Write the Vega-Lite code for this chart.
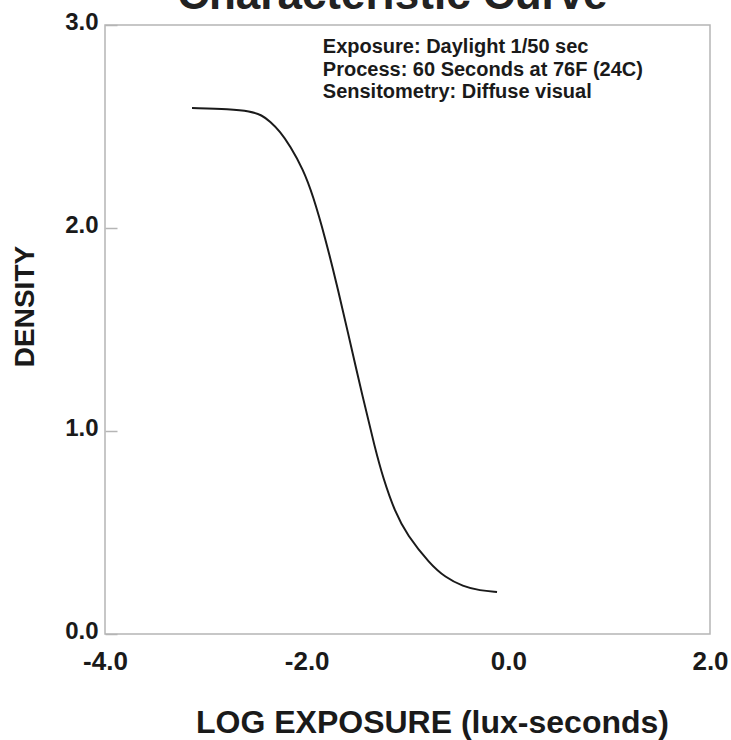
{
  "$schema": "https://vega.github.io/schema/vega-lite/v6.json",
  "autosize": {"type": "none"},
  "padding": {"left": 105, "top": 25, "right": 21, "bottom": 106},
  "width": 605,
  "height": 609,
  "background": "white",
  "config": {
    "view": {"stroke": "#b5b5b5", "strokeWidth": 1.5},
    "font": "Liberation Sans"
  },
  "datasets": {
    "curve": [
      {"logE": -3.137, "density": 2.591},
      {"logE": -2.760, "density": 2.586},
      {"logE": -2.562, "density": 2.576},
      {"logE": -2.443, "density": 2.556},
      {"logE": -2.364, "density": 2.525},
      {"logE": -2.264, "density": 2.476},
      {"logE": -2.165, "density": 2.405},
      {"logE": -2.036, "density": 2.290},
      {"logE": -1.937, "density": 2.160},
      {"logE": -1.818, "density": 1.955},
      {"logE": -1.700, "density": 1.720},
      {"logE": -1.600, "density": 1.505},
      {"logE": -1.441, "density": 1.160},
      {"logE": -1.322, "density": 0.915},
      {"logE": -1.243, "density": 0.770},
      {"logE": -1.124, "density": 0.600},
      {"logE": -1.005, "density": 0.488},
      {"logE": -0.777, "density": 0.345},
      {"logE": -0.628, "density": 0.280},
      {"logE": -0.450, "density": 0.234},
      {"logE": -0.281, "density": 0.214},
      {"logE": -0.112, "density": 0.207}
    ],
    "notes": [
      {"logE": -1.84, "density": 2.89, "label": "Exposure: Daylight 1/50 sec"},
      {"logE": -1.84, "density": 2.78, "label": "Process: 60 Seconds at 76F (24C)"},
      {"logE": -1.84, "density": 2.67, "label": "Sensitometry: Diffuse visual"}
    ],
    "heading": [
      {"logE": -1.15, "density": 3.08, "label": "Characteristic Curve"}
    ]
  },
  "layer": [
    {
      "data": {"name": "curve"},
      "mark": {"type": "line", "color": "#1a1a1a", "strokeWidth": 2, "interpolate": "basis", "clip": true},
      "encoding": {
        "x": {
          "field": "logE",
          "type": "quantitative",
          "scale": {"domain": [-4, 2], "nice": false, "zero": false},
          "axis": {
            "values": [-4, -2, 0, 2],
            "labelExpr": "replace(format(datum.value, '.1f'), '\u2212', '-')",
            "title": "LOG EXPOSURE (lux-seconds)",
            "domain": false,
            "ticks": false,
            "grid": false,
            "labelFlush": false,
            "labelFont": "Liberation Sans",
            "labelFontSize": 26,
            "labelFontWeight": "bold",
            "labelColor": "#1a1a1a",
            "labelPadding": 14,
            "titleFont": "Liberation Sans",
            "titleFontSize": 32,
            "titleFontWeight": "bold",
            "titleColor": "#1a1a1a",
            "titleBaseline": "middle",
            "titleX": 327,
            "titleY": 88
          }
        },
        "y": {
          "field": "density",
          "type": "quantitative",
          "scale": {"domain": [0, 3], "nice": false},
          "axis": {
            "values": [0, 1, 2, 3],
            "format": ".1f",
            "title": "DENSITY",
            "domain": false,
            "ticks": true,
            "tickSize": -12,
            "tickColor": "#b5b5b5",
            "tickWidth": 1.5,
            "grid": false,
            "labelFlush": false,
            "labelFont": "Liberation Sans",
            "labelFontSize": 24,
            "labelFontWeight": "bold",
            "labelColor": "#1a1a1a",
            "labelPadding": 19,
            "labelOffset": -3,
            "titleFont": "Liberation Sans",
            "titleFontSize": 28,
            "titleFontWeight": "bold",
            "titleColor": "#1a1a1a",
            "titleBaseline": "middle",
            "titleX": -80,
            "titleY": 281
          }
        }
      }
    },
    {
      "data": {"name": "notes"},
      "mark": {"type": "text", "align": "left", "baseline": "middle", "font": "Liberation Sans", "fontSize": 20, "fontWeight": "bold", "color": "#1a1a1a"},
      "encoding": {
        "x": {"field": "logE", "type": "quantitative"},
        "y": {"field": "density", "type": "quantitative"},
        "text": {"field": "label"}
      }
    },
    {
      "data": {"name": "heading"},
      "mark": {"type": "text", "align": "center", "baseline": "alphabetic", "font": "Liberation Sans", "fontSize": 44, "fontWeight": "bold", "color": "#222222", "clip": false},
      "encoding": {
        "x": {"field": "logE", "type": "quantitative"},
        "y": {"field": "density", "type": "quantitative"},
        "text": {"field": "label"}
      }
    }
  ]
}
